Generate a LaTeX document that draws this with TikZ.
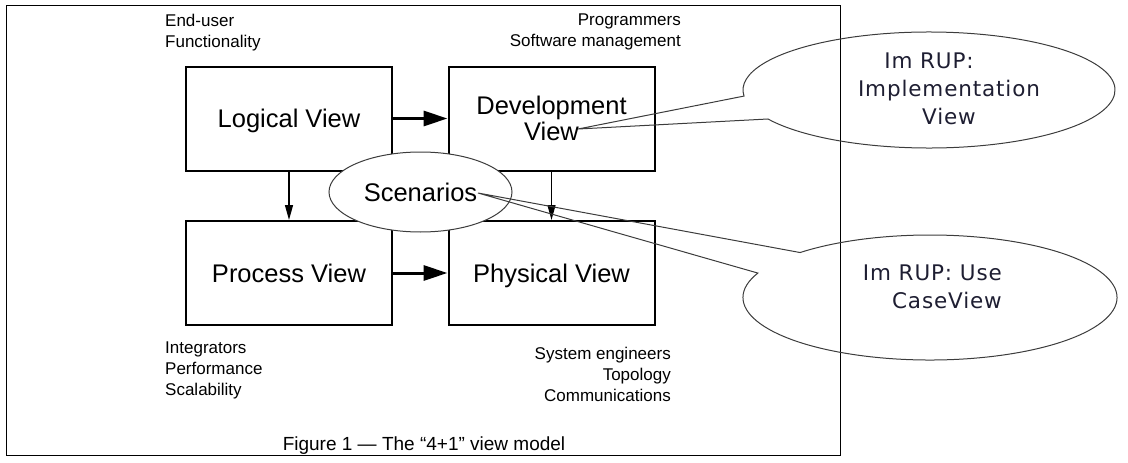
\documentclass[tikz,border=0pt]{standalone}
\usepackage{fontspec}
\setmainfont{Liberation Sans}
\newfontfamily\calloutfont[LetterSpace=4]{DejaVu Sans}
\usetikzlibrary{shapes.geometric,arrows.meta}
\definecolor{callouttxt}{RGB}{30,30,50}
\definecolor{calloutline}{RGB}{60,60,60}
\begin{document}
\begin{tikzpicture}[x=1pt,y=-1pt,
  viewbox/.style={draw=black, line width=2pt, minimum width=206pt, minimum height=104pt,
    inner sep=0pt, align=center, font=\fontsize{25.5}{26}\selectfont},
  oneline/.style={text depth=0pt},
  bigarrow/.style={line width=3pt, -{Triangle[length=24pt,width=15pt]}},
  smallarrow/.style={line width=1.3pt, -{Triangle[length=15pt,width=8pt]}},
  lbl/.style={inner sep=0pt, font=\fontsize{17}{21}\selectfont},
  captionstyle/.style={inner sep=0pt, font=\fontsize{19}{21}\selectfont},
  calloutshape/.style={draw=calloutline, line width=1pt},
  callouttext/.style={inner sep=0pt, text=callouttxt, font=\calloutfont\fontsize{21.5}{28}\selectfont}
]
\useasboundingbox (0,0) rectangle (1128,463);
\node[draw=black, line width=1.3pt, minimum width=834pt, minimum height=450pt, inner sep=0pt] (frame) at (423.5,230.5) {};

% labels
\node[lbl, align=left, anchor=west] (enduser) at (165,32.2) {End-user\\Functionality};
\node[lbl, align=right, anchor=east] (programmers) at (681,32.2) {Programmers\\Software management};
\node[lbl, align=left, anchor=west] (integrators) at (165,370.8) {Integrators\\Performance\\Scalability};
\node[lbl, align=right, anchor=east] (syseng) at (671,374) {System engineers\\Topology\\Communications};
\node[captionstyle, anchor=base] (caption) at (424,450.8) {Figure 1 --- The \textquotedblleft 4+1\textquotedblright\ view model};

% views
\node[viewbox, oneline] (logical) at (289,118.5) {Logical View};
\node[viewbox] (devel) at (551.5,118.5) {Development\\View};
\node[viewbox, oneline] (process) at (289,273) {Process View};
\node[viewbox, oneline] (physical) at (551.5,273) {Physical View};

\draw[bigarrow] (logical.east) -- (devel.west);
\draw[bigarrow] (process.east) -- (physical.west);
\draw[smallarrow] (logical.south) -- (process.north);
\draw[smallarrow] (devel.south) -- (physical.north);

\node[ellipse, draw=calloutline, line width=1pt, fill=white, minimum width=183pt, minimum height=80pt,
  inner sep=0pt, font=\fontsize{25.5}{26}\selectfont] (scen) at (420.5,192) {Scenarios};

% callouts
\coordinate (tipdev) at (578,129);
\coordinate (tipscen) at (478,193);
\coordinate (c1) at (929,90);
\coordinate (c2) at (930,297.5);

\draw[calloutshape] (tipdev) -- ([shift={(150:186 and 58)}]c1)
  arc[start angle=150, end angle=-186, x radius=186, y radius=58] -- cycle;
\draw[calloutshape] (tipscen) -- ([shift={(203:187 and 62.5)}]c2)
  arc[start angle=203, end angle=-134, x radius=187, y radius=62.5] -- cycle;

\node[callouttext, align=center] (rup1) at (949,89) {Im RUP:\hspace*{40pt}\\Implementation\\View};
\node[callouttext, align=right, anchor=east] (rup2) at (1002,287) {Im RUP: Use\\CaseView};
\end{tikzpicture}
\end{document}
